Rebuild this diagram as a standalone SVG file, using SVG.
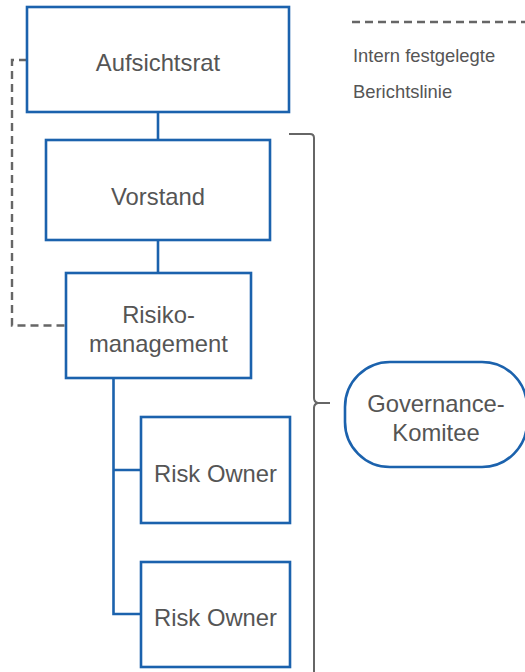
<svg xmlns="http://www.w3.org/2000/svg" width="525" height="672" viewBox="0 0 525 672">
<style>
.box{fill:#fff;stroke:#1b62ad;stroke-width:2.6}
.link{fill:none;stroke:#1b62ad;stroke-width:2.6}
.dash{fill:none;stroke:#666;stroke-width:2.4;stroke-dasharray:8 5}
.brace{fill:none;stroke:#666;stroke-width:2}
.t{font-family:"Liberation Sans",Arial,Helvetica,sans-serif;font-size:23.8px;fill:#555;text-anchor:middle}
.lg{font-family:"Liberation Sans",Arial,Helvetica,sans-serif;font-size:18.4px;fill:#555}
</style>
<rect width="525" height="672" fill="#fff"/>
<g id="connectors">
<path class="dash" d="M27,60 H12 V325.5 H66"/>
<path class="link" d="M158,112 V140"/>
<path class="link" d="M158,240 V273"/>
<path class="link" d="M113.5,378 V614 H141 M113.5,470 H141"/>
<path class="brace" d="M289,134 H310 Q314,134 314,138 V398 Q314,402 318,403 L330,403 M318,403 Q314,404 314,408 V672"/>
</g>
<g id="legend">
<path class="dash" d="M352,22 H525"/>
<text class="lg" x="353" y="62">Intern festgelegte</text>
<text class="lg" x="353" y="98">Berichtslinie</text>
</g>
<g id="aufsichtsrat">
<rect class="box" x="27" y="7" width="262" height="105"/>
<text class="t" x="158" y="70.5">Aufsichtsrat</text>
</g>
<g id="vorstand">
<rect class="box" x="46" y="140" width="224" height="100"/>
<text class="t" x="158" y="205">Vorstand</text>
</g>
<g id="risikomanagement">
<rect class="box" x="66" y="273" width="185" height="105"/>
<text class="t" x="158.5" y="322.5">Risiko-</text>
<text class="t" x="158.5" y="352">management</text>
</g>
<g id="risk-owner-1">
<rect class="box" x="141" y="417" width="149" height="106"/>
<text class="t" x="215.5" y="481.5">Risk Owner</text>
</g>
<g id="risk-owner-2">
<rect class="box" x="141" y="562" width="149" height="105"/>
<text class="t" x="215.5" y="626">Risk Owner</text>
</g>
<g id="governance-komitee">
<rect class="box" x="345" y="362" width="182" height="105" rx="45" ry="45"/>
<text class="t" x="436" y="411.5">Governance-</text>
<text class="t" x="436" y="440.5">Komitee</text>
</g>
</svg>
